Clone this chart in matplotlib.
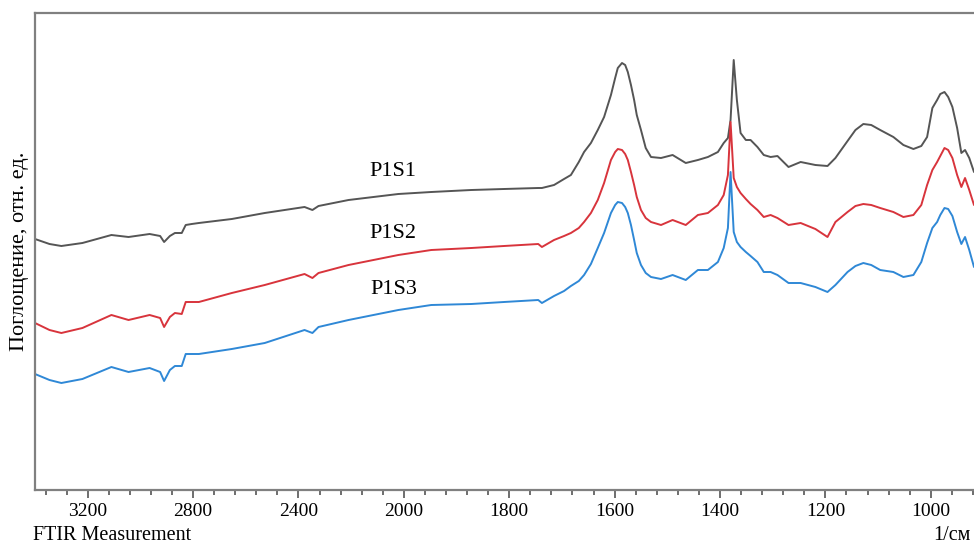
"""ИК-Фурье спектры образцов P1S1, P1S2, P1S3 (смещены по вертикали)."""

import numpy as np
import matplotlib
matplotlib.use("Agg")
import matplotlib.pyplot as plt

plt.rcParams.update({
    "font.family": ["Liberation Serif", "DejaVu Serif"],
    "font.size": 14,
    "xtick.labelsize": 14,
    "axes.labelsize": 16,
})

# ---------------------------------------------------------------------------
# Данные (волновое число, 1/см; поглощение, отн. ед.)
# ---------------------------------------------------------------------------
wavenumber = [
    3400, 3345, 3300, 3220, 3110, 3045, 2965, 2925, 2910, 2888,
    2869, 2843, 2828, 2805, 2778, 2653, 2528, 2377, 2347, 2324,
    2210, 2021, 1948, 1872, 1810, 1745, 1738, 1715, 1696, 1683,
    1668, 1658, 1645, 1632, 1620, 1607, 1599, 1594, 1586, 1580,
    1575, 1569, 1563, 1558, 1550, 1541, 1531, 1512, 1490, 1465,
    1442, 1423, 1404, 1393, 1385, 1380, 1374, 1368, 1361, 1351,
    1342, 1329, 1317, 1304, 1291, 1270, 1247, 1219, 1196, 1181,
    1158, 1143, 1128, 1113, 1096, 1071, 1052, 1033, 1018, 1007,
    997, 988, 982, 974, 967, 959, 950, 942, 935, 927,
    918,
]

p1s1 = [
    2.51, 2.46, 2.44, 2.47, 2.55, 2.53, 2.56, 2.54, 2.48, 2.54,
    2.57, 2.57, 2.65, 2.66, 2.67, 2.71, 2.77, 2.83, 2.80, 2.84,
    2.90, 2.96, 2.98, 3.00, 3.01, 3.02, 3.02, 3.05, 3.11, 3.15,
    3.28, 3.38, 3.47, 3.60, 3.73, 3.95, 4.12, 4.22, 4.27, 4.25,
    4.18, 4.05, 3.90, 3.75, 3.60, 3.42, 3.33, 3.32, 3.35, 3.27,
    3.30, 3.33, 3.38, 3.47, 3.52, 3.70, 4.30, 3.90, 3.57, 3.50,
    3.50, 3.43, 3.35, 3.33, 3.34, 3.23, 3.28, 3.25, 3.24, 3.32,
    3.49, 3.60, 3.66, 3.65, 3.60, 3.53, 3.45, 3.41, 3.44, 3.53,
    3.82, 3.90, 3.96, 3.98, 3.93, 3.83, 3.62, 3.37, 3.40, 3.32,
    3.18,
]

p1s2 = [
    1.67, 1.60, 1.57, 1.62, 1.75, 1.70, 1.75, 1.72, 1.63, 1.73,
    1.77, 1.76, 1.88, 1.88, 1.88, 1.97, 2.05, 2.16, 2.12, 2.17,
    2.25, 2.35, 2.40, 2.42, 2.44, 2.46, 2.43, 2.50, 2.54, 2.57,
    2.62, 2.68, 2.77, 2.90, 3.07, 3.30, 3.38, 3.41, 3.40, 3.36,
    3.30, 3.18, 3.05, 2.93, 2.80, 2.72, 2.68, 2.65, 2.70, 2.65,
    2.75, 2.77, 2.85, 2.95, 3.15, 3.68, 3.12, 3.03, 2.97, 2.91,
    2.86, 2.80, 2.73, 2.75, 2.72, 2.65, 2.67, 2.61, 2.53, 2.68,
    2.78, 2.84, 2.86, 2.85, 2.82, 2.78, 2.73, 2.75, 2.85, 3.05,
    3.20, 3.28, 3.34, 3.42, 3.40, 3.32, 3.15, 3.03, 3.12, 3.00,
    2.85,
]

p1s3 = [
    1.16, 1.10, 1.07, 1.11, 1.23, 1.18, 1.22, 1.18, 1.09, 1.20,
    1.24, 1.24, 1.36, 1.36, 1.36, 1.41, 1.47, 1.60, 1.57, 1.63,
    1.70, 1.80, 1.85, 1.86, 1.88, 1.90, 1.87, 1.94, 1.99, 2.04,
    2.09, 2.15, 2.26, 2.42, 2.57, 2.77, 2.85, 2.88, 2.87, 2.83,
    2.77, 2.65, 2.50, 2.37, 2.25, 2.17, 2.13, 2.11, 2.15, 2.10,
    2.20, 2.20, 2.28, 2.42, 2.62, 3.18, 2.58, 2.48, 2.43, 2.38,
    2.34, 2.28, 2.18, 2.18, 2.15, 2.07, 2.07, 2.03, 1.98, 2.05,
    2.18, 2.24, 2.27, 2.25, 2.20, 2.18, 2.13, 2.15, 2.28, 2.47,
    2.62, 2.68, 2.75, 2.82, 2.81, 2.74, 2.58, 2.46, 2.53, 2.40,
    2.23,
]

sample_names = ["P1S1", "P1S2", "P1S3"]
sample_colors = ["#555555", "#d8343c", "#2f88d6"]
# положение подписей (волновое число, поглощение)
label_x = [2040, 2040, 2040]
label_y = [3.18, 2.57, 2.00]

major_ticks = [3200, 2800, 2400, 2000, 1800, 1600, 1400, 1200, 1000]


# шкала сжата вдвое выше 2000 1/см, как в программе прибора
def _fwd(x):
    x = np.asarray(x, dtype=float)
    return np.where(x > 2000, 2000 + (x - 2000) / 2, x)


def _inv(t):
    t = np.asarray(t, dtype=float)
    return np.where(t > 2000, 2000 + 2 * (t - 2000), t)


fig = plt.figure(figsize=(9.74, 5.47), dpi=100)
ax = fig.add_axes([35 / 974, 57 / 547, 939 / 974, 477 / 547])
ax.set_xscale("function", functions=(_fwd, _inv))

for vals, name, color, lx, ly in zip([p1s1, p1s2, p1s3], sample_names,
                                     sample_colors, label_x, label_y):
    ax.plot(wavenumber, vals, color=color, linewidth=1.4,
            solid_joinstyle="round", solid_capstyle="round")
    ax.text(lx, ly, name, ha="center", va="center", fontsize=16)

ax.set_xlim(3400, 918)
ax.set_ylim(0, 4.77)

ax.set_xticks(major_ticks)
ax.set_xticklabels([str(t) for t in major_ticks])
minor = list(range(3360, 2000, -80)) + list(range(1960, 900, -40))
ax.set_xticks(minor, minor=True)
ax.set_yticks([])

ax.tick_params(axis="x", which="major", length=6, width=1.2, color="#555555", pad=3)
ax.tick_params(axis="x", which="minor", length=3.5, width=1.2, color="#555555")

for side in ("left", "bottom", "top"):
    ax.spines[side].set_color("#808080")
    ax.spines[side].set_linewidth(1.6)
ax.spines["right"].set_visible(False)

ax.set_ylabel("Поглощение, отн. ед.", labelpad=4)

fig.text(33 / 974, 11 / 547, "FTIR Measurement", ha="left", va="center", fontsize=14.5)
fig.text(952 / 974, 11 / 547, "1/см", ha="center", va="center", fontsize=14.5)

fig.savefig("out.png", dpi=100)
